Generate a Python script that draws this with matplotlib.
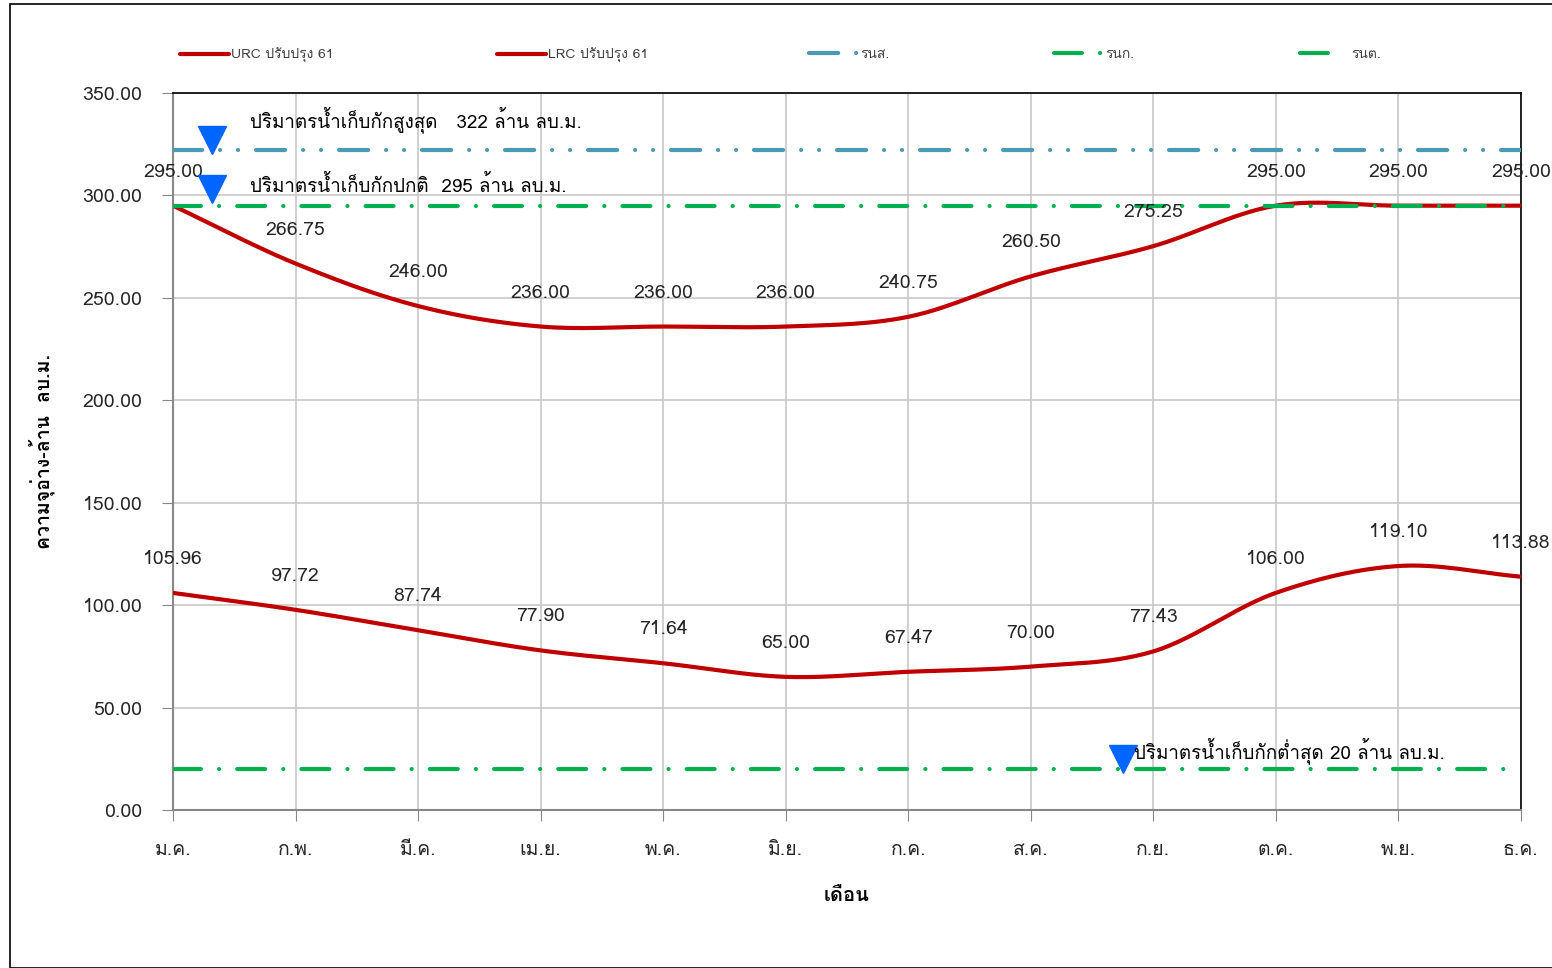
import numpy as np
import matplotlib
matplotlib.use("Agg")
import matplotlib.pyplot as plt
from matplotlib import font_manager
from matplotlib.ft2font import FT2Font
from matplotlib.lines import Line2D
from matplotlib.patches import Rectangle

months = ["ม.ค.", "ก.พ.", "มี.ค.", "เม.ย.", "พ.ค.", "มิ.ย.",
          "ก.ค.", "ส.ค.", "ก.ย.", "ต.ค.", "พ.ย.", "ธ.ค."]
urc = [295.00, 266.75, 246.00, 236.00, 236.00, 236.00,
       240.75, 260.50, 275.25, 295.00, 295.00, 295.00]
lrc = [105.96, 97.72, 87.74, 77.90, 71.64, 65.00,
       67.47, 70.00, 77.43, 106.00, 119.10, 113.88]
level_max = 322
level_normal = 295
level_min = 20
yticks = [0, 50, 100, 150, 200, 250, 300, 350]


def thai_fonts():
    found = []
    for f in font_manager.fontManager.ttflist:
        try:
            ft = FT2Font(f.fname)
            if ft.get_char_index(ord("ก")) and f.name not in found:
                found.append(f.name)
        except Exception:
            pass
    return found


plt.rcParams["font.family"] = thai_fonts() + ["DejaVu Sans"]


def smooth(x, y, n=30):
    # catmull-rom drawing of the series, like excel's smoothed line
    x = np.asarray(x, float)
    y = np.asarray(y, float)
    px = np.concatenate([[2 * x[0] - x[1]], x, [2 * x[-1] - x[-2]]])
    py = np.concatenate([[2 * y[0] - y[1]], y, [2 * y[-1] - y[-2]]])
    xs, ys = [], []
    t = np.linspace(0, 1, n)
    for i in range(1, len(px) - 2):
        for arr, out in ((px, xs), (py, ys)):
            p0, p1, p2, p3 = arr[i - 1:i + 3]
            out.append(0.5 * ((2 * p1) + (-p0 + p2) * t
                              + (2 * p0 - 5 * p1 + 4 * p2 - p3) * t ** 2
                              + (-p0 + 3 * p1 - 3 * p2 + p3) * t ** 3))
    return np.concatenate(xs), np.concatenate(ys)


fig = plt.figure(figsize=(15.52, 9.68), dpi=100)
ax = fig.add_axes([173 / 1552, 1 - 810 / 968, (1521 - 173) / 1552, (810 - 93) / 968])

x = np.arange(len(months))
red = "#C00000"
blue = "#4A9AB4"
green = "#00B050"
lw = 3

sx, sy = smooth(x, urc)
h_urc, = ax.plot(sx, sy, color=red, lw=lw, zorder=3, solid_capstyle="round")
sx, sy = smooth(x, lrc)
h_lrc, = ax.plot(sx, sy, color=red, lw=lw, zorder=3, solid_capstyle="round")

blue_dash = (7, 4.3, 0.01, 4.3, 0.01, 4.3)
green_dash = (6.7, 4.35, 0.01, 4.35)
h_max, = ax.plot([x[0], x[-1]], [level_max] * 2, color=blue, lw=lw, zorder=4,
                 dashes=blue_dash, dash_capstyle="round")
h_norm, = ax.plot([x[0], x[-1]], [level_normal] * 2, color=green, lw=lw, zorder=4,
                  dashes=green_dash, dash_capstyle="round")
ax.plot([x[0], x[-1]], [level_min] * 2, color=green, lw=lw, zorder=4,
        dashes=green_dash, dash_capstyle="round")
# legend swatch for the low line shows only the dash
h_min = Line2D([], [], color=green, lw=lw, dashes=(6.7, 30), dash_capstyle="round")

for series in (urc, lrc):
    for xi, v in zip(x, series):
        ax.annotate(f"{v:.2f}", (xi, v), xytext=(0, 34), textcoords="offset pixels",
                    ha="center", va="center", fontsize=14, color="#262626", zorder=5)

# markers and notes
tri = dict(marker="v", ms=20, color="#0066FF", zorder=6, ls="none")
ax.plot([0.32], [level_max + 5], **tri)
ax.plot([0.32], [level_normal + 8], **tri)
ax.plot([7.75], [level_min + 5], **tri)
ax.text(0.63, 337, "ปริมาตรน้ำเก็บกักสูงสุด   322 ล้าน ลบ.ม.", fontsize=13.5, va="center", zorder=6)
ax.text(0.63, 305, "ปริมาตรน้ำเก็บกักปกติ  295 ล้าน ลบ.ม.", fontsize=13.5, va="center", zorder=6)
ax.text(7.84, 29, "ปริมาตรน้ำเก็บกักต่ำสุด 20 ล้าน ลบ.ม.", fontsize=13.5, va="center", zorder=6)

ax.set_xlim(0, 11)
ax.set_ylim(0, 350)
ax.set_xticks(x)
ax.set_xticklabels(months)
ax.set_yticks(yticks)
ax.set_yticklabels([f"{v:.2f}" for v in yticks])
ax.tick_params(axis="both", labelsize=14, length=8, color="#888888", direction="out",
               labelcolor="#262626")
ax.tick_params(axis="x", pad=14)
ax.tick_params(axis="y", pad=14)
ax.grid(True, color="#C8C8C8", lw=1.2)
ax.set_axisbelow(True)
for side in ("left", "bottom"):
    ax.spines[side].set_color("#888888")
    ax.spines[side].set_linewidth(1.5)
for side in ("top", "right"):
    ax.spines[side].set_color("black")
    ax.spines[side].set_linewidth(1.2)

ax.set_xlabel("เดือน", fontsize=14.5, fontweight="bold", labelpad=20)
ax.set_ylabel("ความจุอ่าง-ล้าน  ลบ.ม.", fontsize=14, fontweight="bold", labelpad=20)

legend_items = [(h_urc, "URC ปรับปรุง 61", 180), (h_lrc, "LRC ปรับปรุง 61", 497),
                (h_max, "รนส.", 809), (h_norm, "รนก.", 1054), (h_min, "รนต.", 1300)]
for handle, label, px in legend_items:
    leg = fig.legend([handle], [label], loc="center left",
                     bbox_to_anchor=(px / 1552, 1 - 55 / 968), frameon=False, fontsize=10,
                     handlelength=3.5, handletextpad=0.2, borderaxespad=0, borderpad=0)
    for t in leg.get_texts():
        t.set_color("#404040")

fig.patches.append(Rectangle((10 / 1552, 0), 1.1, 1 - 4 / 968, transform=fig.transFigure,
                             fill=False, ec="black", lw=1.2))

fig.savefig("out.png", dpi=100)
